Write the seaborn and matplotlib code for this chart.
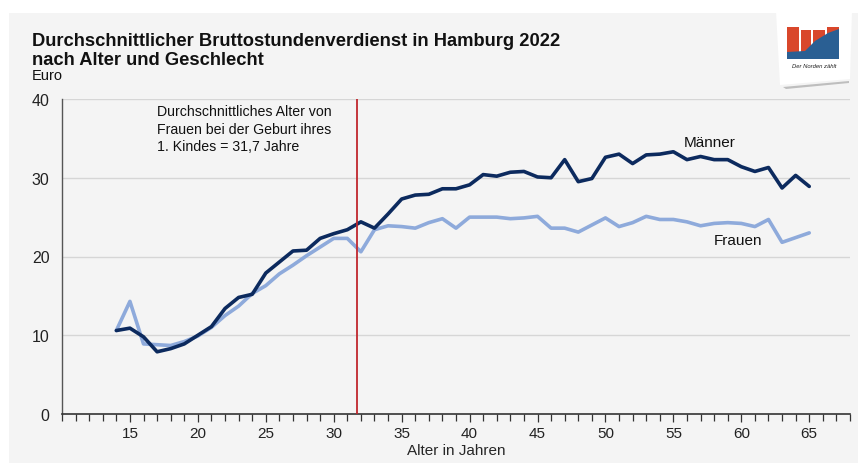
import matplotlib
matplotlib.use("Agg")
import matplotlib.pyplot as plt
from matplotlib.patches import Rectangle, Polygon
import seaborn as sns
import pandas as pd
import numpy as np

ages = list(range(14, 66))
maenner = [10.6, 10.9, 9.8, 7.9, 8.3, 8.9, 10.0, 11.1, 13.4, 14.8, 15.2,
           17.9, 19.3, 20.7, 20.8, 22.3, 22.9, 23.4, 24.4, 23.6, 25.4,
           27.3, 27.8, 27.9, 28.6, 28.6, 29.1, 30.4, 30.2, 30.7, 30.8,
           30.1, 30.0, 32.3, 29.5, 29.9, 32.6, 33.0, 31.8, 32.9, 33.0,
           33.3, 32.3, 32.7, 32.3, 32.3, 31.4, 30.8, 31.3, 28.7, 30.3, 28.9]
frauen = [10.6, 14.3, 8.9, 8.8, 8.7, 9.2, 9.9, 11.0, 12.5, 13.7, 15.3,
          16.3, 17.8, 18.9, 20.1, 21.2, 22.3, 22.3, 20.6, 23.4, 23.9,
          23.8, 23.6, 24.3, 24.8, 23.6, 25.0, 25.0, 25.0, 24.8, 24.9,
          25.1, 23.6, 23.6, 23.1, 24.0, 24.9, 23.8, 24.3, 25.1, 24.7,
          24.7, 24.4, 23.9, 24.2, 24.3, 24.2, 23.8, 24.7, 21.8, 22.4, 23.0]
series_names = ["Männer", "Frauen"]
mother_age = 31.7
y_ticks = [0, 10, 20, 30, 40]
x_ticks = [15, 20, 25, 30, 35, 40, 45, 50, 55, 60, 65]

title = "Durchschnittlicher Bruttostundenverdienst in Hamburg 2022\nnach Alter und Geschlecht"
unit = "Euro"
xlabel = "Alter in Jahren"
note = "Durchschnittliches Alter von\nFrauen bei der Geburt ihres\n1. Kindes = 31,7 Jahre"

df = pd.DataFrame({
    "Alter": ages * 2,
    "Euro": maenner + frauen,
    "Geschlecht": [series_names[0]] * len(ages) + [series_names[1]] * len(ages),
})

sns.set_theme(style="white")
plt.rcParams["font.family"] = ["Liberation Sans", "DejaVu Sans"]

BG = "#f4f4f4"
DARK = "#0c2a5e"
LIGHT = "#8eaadb"
RED = "#c0272d"

fig = plt.figure(figsize=(8.64, 4.64), dpi=100)
fig.patch.set_facecolor("white")
fig.patches.append(Rectangle((9 / 864, 0), 1 - 15 / 864, 1 - 14 / 464,
                             transform=fig.transFigure, facecolor=BG,
                             edgecolor="none", zorder=-10))

ax = fig.add_axes([62 / 864, 1 - 415 / 464, (850 - 62) / 864, (415 - 100) / 464])
ax.set_facecolor(BG)

sns.lineplot(data=df, x="Alter", y="Euro", hue="Geschlecht",
             palette={series_names[0]: DARK, series_names[1]: LIGHT},
             hue_order=[series_names[1], series_names[0]],
             linewidth=2.6, legend=False, ax=ax)

ax.axvline(mother_age, color=RED, linewidth=1.3, zorder=5)

ax.set_xlim(10, 68)
ax.set_ylim(0, 40)
ax.set_yticks(y_ticks)
ax.set_xticks(x_ticks)
ax.set_xticks(range(10, 69), minor=True)
for yv in y_ticks[1:]:
    ax.axhline(yv, color="#d6d6d6", linewidth=1.0, zorder=0)

for s in ["top", "right"]:
    ax.spines[s].set_visible(False)
ax.spines["left"].set_color("#555555")
ax.spines["left"].set_linewidth(1.0)
ax.spines["bottom"].set_color("#333333")
ax.spines["bottom"].set_linewidth(1.2)

ax.tick_params(axis="x", which="major", direction="out", length=6, width=0.9,
               color="#333333", bottom=True, labelsize=11, pad=3)
ax.tick_params(axis="x", which="minor", direction="out", length=5, width=0.9,
               color="#333333", bottom=True)
ax.tick_params(axis="y", which="both", length=0, labelsize=11.5, pad=9)
ax.set_xlabel(xlabel, fontsize=11, labelpad=2)
ax.set_ylabel("")
for lab in ax.get_xticklabels() + ax.get_yticklabels():
    lab.set_color("#222222")

ax.text(55.8, 33.6, series_names[0], fontsize=11, color="#111111", ha="left", va="bottom")
ax.text(58.0, 21.2, series_names[1], fontsize=11, color="#111111", ha="left", va="bottom")
ax.text(17.0, 39.4, note, fontsize=10.2, color="#111111", ha="left", va="top",
        linespacing=1.35)

fig.text(32 / 864, 1 - 33 / 464, title, fontsize=13.2, fontweight="bold",
         color="#111111", ha="left", va="top", linespacing=1.12)
fig.text(32 / 864, 1 - 69 / 464, unit, fontsize=10.5, color="#111111",
         ha="left", va="top")

# logo (decorative)
shadow = Polygon([(783 / 864, 1 - 88 / 464), (849 / 864, 1 - 82 / 464),
                  (849 / 864, 1 - 84 / 464), (786 / 864, 1 - 90 / 464)],
                 closed=True, transform=fig.transFigure, facecolor="#9a9a9a",
                 edgecolor="none", alpha=0.6)
fig.patches.append(shadow)
box = Polygon([(776 / 864, 1 - 12 / 464), (852 / 864, 1 - 12 / 464),
               (850 / 864, 1 - 80 / 464), (780 / 864, 1 - 86 / 464)],
              closed=True, transform=fig.transFigure, facecolor="white",
              edgecolor="none")
fig.patches.append(box)
reds = [(787, 28, 12, 25), (801, 31, 10, 22), (813, 31, 12, 22), (827, 28, 12, 25)]
for (x, y, w, h) in reds:
    fig.patches.append(Rectangle((x / 864, 1 - (y + h) / 464), w / 864, h / 464,
                                 transform=fig.transFigure, facecolor="#d9472b",
                                 edgecolor="none"))
blue = Polygon([(787 / 864, 1 - 53 / 464), (805 / 864, 1 - 52 / 464),
                (815 / 864, 1 - 42 / 464), (828 / 864, 1 - 34 / 464),
                (839 / 864, 1 - 30 / 464), (839 / 864, 1 - 60 / 464),
                (787 / 864, 1 - 60 / 464)],
               closed=True, transform=fig.transFigure, facecolor="#2a5f93",
               edgecolor="none")
fig.patches.append(blue)
fig.text(814 / 864, 1 - 66 / 464, "Der Norden zählt", fontsize=4.2,
         style="italic", color="#222222", ha="center", va="center")

fig.savefig("out.png", dpi=100, facecolor=fig.get_facecolor())
